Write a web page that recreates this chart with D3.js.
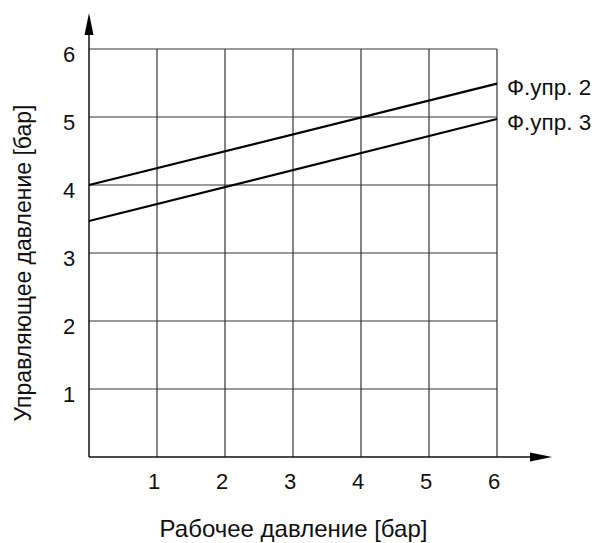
<!DOCTYPE html>
<html>
<head>
<meta charset="utf-8">
<script src="https://cdn.jsdelivr.net/npm/d3@7"></script>
<style>
  body { margin:0; background:#fff; }
  text { font-family: "Liberation Sans", Arial, sans-serif; fill:#111; }
</style>
</head>
<body>
<div id="chart"></div>
<script>
// =====================================================================
// data
var tickValues = [1, 2, 3, 4, 5, 6];
var seriesNames = ["Ф.упр. 2", "Ф.упр. 3"];
var seriesX = [0, 6];
var series2 = [4.0, 5.49];
var series3 = [3.47, 4.97];
var xTitle = "Рабочее давление [бар]";
var yTitle = "Управляющее давление [бар]";

// =====================================================================
var size = { width:598, height:543 };
var plot = { left:89, right:497, top:49, bottom:457 };

var svg = d3.select("#chart").append("svg")
    .attr("width", size.width).attr("height", size.height);

var x = d3.scaleLinear().domain([0, 6]).range([plot.left, plot.right]);
var y = d3.scaleLinear().domain([0, 6]).range([plot.bottom, plot.top]);

// grid
var grid = svg.append("g").attr("class", "grid");
grid.selectAll(".vline").data(tickValues).enter().append("line")
    .attr("x1", function(d){ return x(d); }).attr("x2", function(d){ return x(d); })
    .attr("y1", y(0)).attr("y2", y(6))
    .attr("stroke", "#333").attr("stroke-width", 1.2);
grid.selectAll(".hline").data(tickValues).enter().append("line")
    .attr("y1", function(d){ return y(d); }).attr("y2", function(d){ return y(d); })
    .attr("x1", x(0)).attr("x2", x(6))
    .attr("stroke", "#333").attr("stroke-width", 1.2);

// axes with arrows
svg.append("line").attr("x1", x(0)).attr("x2", 533).attr("y1", y(0)).attr("y2", y(0))
    .attr("stroke", "#111").attr("stroke-width", 1.5);
svg.append("line").attr("x1", x(0)).attr("x2", x(0)).attr("y1", y(0)).attr("y2", 33)
    .attr("stroke", "#111").attr("stroke-width", 1.5);
svg.append("path").attr("d", "M530,452.5 L552,457 L530,461.5 Z").attr("fill", "#000");
svg.append("path").attr("d", "M84.5,35 L89,13 L93.5,35 Z").attr("fill", "#000");

// tick labels
svg.selectAll(".xlab").data(tickValues).enter().append("text")
    .attr("x", function(d){ return x(d) - 3; }).attr("y", 489)
    .attr("text-anchor", "middle").style("font-size", "22px")
    .text(function(d){ return d; });
svg.selectAll(".ylab").data(tickValues).enter().append("text")
    .attr("x", 69).attr("y", function(d){ return y(d) + 12.5; })
    .attr("text-anchor", "middle").style("font-size", "22px")
    .text(function(d){ return d; });

// lines
var line = d3.line().x(function(d){ return x(d[0]); }).y(function(d){ return y(d[1]); });
[series2, series3].forEach(function(s, i){
    var pts = seriesX.map(function(v, j){ return [v, s[j]]; });
    svg.append("path").attr("d", line(pts))
        .attr("fill", "none").attr("stroke", "#000").attr("stroke-width", 2.2);
    svg.append("text").attr("x", 507).attr("y", y(s[1]) + 11)
        .style("font-size", "22.5px").text(seriesNames[i]);
});

// titles
svg.append("text").attr("x", 293.5).attr("y", 537)
    .attr("text-anchor", "middle").style("font-size", "24px").text(xTitle);
svg.append("text").attr("transform", "translate(31,263) rotate(-90)")
    .attr("text-anchor", "middle").style("font-size", "23px").text(yTitle);
</script>
</body>
</html>
